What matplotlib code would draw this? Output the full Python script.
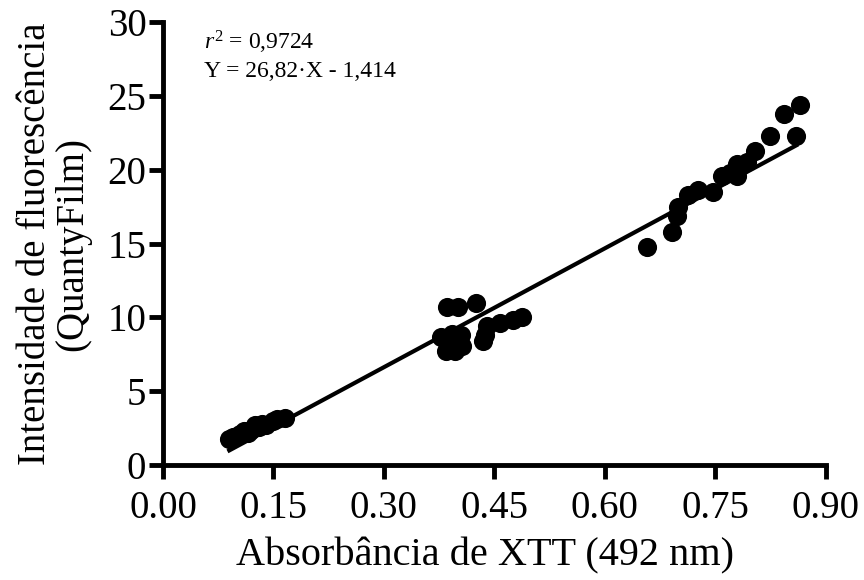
import matplotlib
matplotlib.use("Agg")
import matplotlib.pyplot as plt
import numpy as np

plt.rcParams['font.family'] = ['Liberation Serif', 'DejaVu Serif']
plt.rcParams['mathtext.fontset'] = 'custom'
plt.rcParams['mathtext.rm'] = 'Liberation Serif'
plt.rcParams['mathtext.it'] = 'Liberation Serif:italic'

# absorbance (x) and fluorescence (y)
absorb_low = [0.090, 0.095, 0.100, 0.105, 0.110, 0.115, 0.120, 0.125, 0.130, 0.135,
              0.140, 0.150, 0.155, 0.165]
fluor_low = [1.8, 1.9, 2.0, 2.1, 2.3, 2.2, 2.4, 2.7, 2.6, 2.8, 2.7, 3.0, 3.1, 3.2]

absorb_mid = [0.385, 0.400, 0.425, 0.377, 0.393, 0.384, 0.396, 0.406, 0.405,
              0.434, 0.437, 0.440, 0.457, 0.475, 0.487]
fluor_mid = [10.7, 10.7, 11.0, 8.7, 8.9, 7.7, 7.7, 8.1, 8.8,
             8.4, 8.8, 9.4, 9.6, 9.8, 10.0]

absorb_high = [0.657, 0.691, 0.698, 0.699, 0.713, 0.726, 0.747, 0.759, 0.770, 0.779,
               0.779, 0.793, 0.804, 0.824, 0.844, 0.865, 0.860]
fluor_high = [14.8, 15.8, 16.9, 17.5, 18.3, 18.6, 18.5, 19.6, 19.8, 20.4,
              19.6, 20.5, 21.3, 22.3, 23.8, 24.4, 22.3]

slope = 26.82
intercept = -1.414
fit_range = [0.09, 0.86]

x = absorb_low + absorb_mid + absorb_high
y = fluor_low + fluor_mid + fluor_high

fig = plt.figure(figsize=(8.64, 5.8), dpi=100)
ax = fig.add_axes([0.1887, 0.198, 0.767, 0.764])

ax.scatter(x, y, s=190, color='black', zorder=3, linewidths=0)
xf = np.array(fit_range)
ax.plot(xf, slope * xf + intercept, color='black', lw=3, zorder=2)

ax.set_xlim(0, 0.9)
ax.set_ylim(0, 30)
ax.set_xticks(np.arange(0, 0.91, 0.15))
ax.set_xticklabels([f"{v:.2f}" for v in np.arange(0, 0.91, 0.15)])
ax.set_yticks(range(0, 31, 5))

for s in ['top', 'right']:
    ax.spines[s].set_visible(False)
for s in ['left', 'bottom']:
    ax.spines[s].set_linewidth(3.5)
ax.tick_params(width=3.5, length=10, labelsize=28, direction='out')
ax.tick_params(axis='x', pad=8)
ax.tick_params(axis='y', pad=2)

ax.set_xlabel('Absorbância de XTT (492 nm)', fontsize=29, labelpad=7)
ax.xaxis.label.set_x(0.486)
ax.set_ylabel('Intensidade de fluorescência\n(QuantyFilm)', fontsize=28, labelpad=12,
              linespacing=1.0)

ax.text(0.062, 0.955, r'$\mathit{r}^2$ = 0,9724', transform=ax.transAxes, fontsize=17, va='center')
ax.text(0.062, 0.888, 'Y = 26,82·X - 1,414', transform=ax.transAxes, fontsize=17, va='center')

fig.savefig('out.png', dpi=100)
